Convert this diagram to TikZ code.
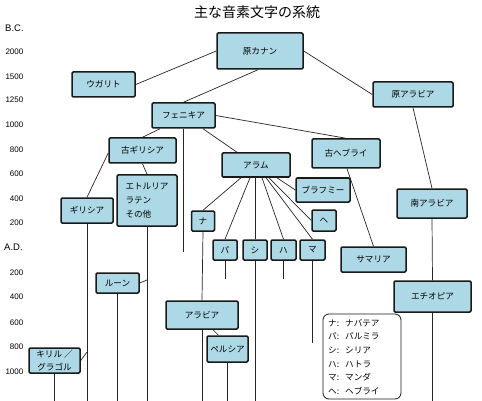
\documentclass[tikz,border=0pt]{standalone}
\usepackage{fontspec}
\setmainfont{Noto Sans CJK JP}
\newfontfamily\lat{Liberation Sans}
\definecolor{boxblue}{RGB}{173,216,230}
\begin{document}
\begin{tikzpicture}[x=1pt,y=-1pt,
  box/.style 2 args={draw=black!90, line width=1.5pt, fill=boxblue, rounded corners=1.2pt,
     inner sep=0pt, minimum width=#1, minimum height=#2,
     font=\fontsize{8.6}{14}\selectfont, align=center},
  ln/.style={draw=black!85, line width=0.7pt},
  ax/.style={font=\lat\fontsize{8}{9}\selectfont, anchor=east, inner sep=0pt},
  era/.style={font=\lat\fontsize{9.5}{10}\selectfont, anchor=west, inner sep=0pt}]
\useasboundingbox (0,0) rectangle (482,401);
\fill[white] (0,0) rectangle (482,401);

% title
\node[font=\fontsize{14}{16}\selectfont, inner sep=0pt] (title) at (257,12) {主な音素文字の系統};

% axis
\node[era] (bc) at (5,28) {B.C.};
\node[ax] (y2000) at (23.5,52) {2000};
\node[ax] (y1500) at (23.5,77) {1500};
\node[ax] (y1250) at (23.5,100) {1250};
\node[ax] (y1000) at (23.5,125) {1000};
\node[ax] (y800) at (23.5,150) {800};
\node[ax] (y600) at (23.5,174) {600};
\node[ax] (y400) at (23.5,199) {400};
\node[ax] (y200) at (23.5,223) {200};
\node[era] (ad) at (4,247) {A.D.};
\node[ax] (a200) at (23.5,273) {200};
\node[ax] (a400) at (23.5,297) {400};
\node[ax] (a600) at (23.5,323) {600};
\node[ax] (a800) at (23.5,347) {800};
\node[ax] (a1000) at (23.5,372) {1000};

% boxes
\node[box={86pt}{36pt}] (pc) at (260,51) {原カナン};
\node[box={63pt}{25pt}] (ug) at (103.5,84.5) {ウガリト};
\node[box={80pt}{25pt}] (pa) at (413,94.5) {原アラビア};
\node[box={63pt}{25pt}] (ph) at (183.5,115.5) {フェニキア};
\node[box={67pt}{25pt}] (og) at (142.5,150.5) {古ギリシア};
\node[box={60pt}{51pt}, align=left] (et) at (147,200.5) {エトルリア\\ラテン\\その他};
\node[box={52pt}{25pt}] (gr) at (87,210.5) {ギリシア};
\node[box={68pt}{24pt}] (ar) at (256,165) {アラム};
\node[box={68pt}{29pt}] (ob) at (346,153.5) {古ヘブライ};
\node[box={54pt}{24pt}] (br) at (323,190) {ブラフミー};
\node[box={23pt}{20pt}] (na) at (203,221) {ナ};
\node[box={24pt}{20pt}] (pl) at (225,250) {パ};
\node[box={24pt}{20pt}] (si) at (255,250) {シ};
\node[box={25pt}{20pt}] (ha) at (283.5,250) {ハ};
\node[box={25pt}{20pt}] (ma) at (312.5,250) {マ};
\node[box={24pt}{21pt}] (he) at (324,220.5) {ヘ};
\node[box={70pt}{29pt}] (sa) at (432,203.5) {南アラビア};
\node[box={65pt}{25pt}] (sm) at (373.5,259.5) {サマリア};
\node[box={77pt}{31pt}] (eo) at (432.5,296.5) {エチオピア};
\node[box={43pt}{20pt}] (ru) at (117.5,283) {ルーン};
\node[box={72pt}{28pt}] (ab) at (202,315) {アラビア};
\node[box={41pt}{26pt}] (pe) at (227.5,349) {ペルシア};
\node[box={51pt}{25pt}, font=\fontsize{8.6}{13}\selectfont] (ky) at (54.5,360.5) {キリル ／\\グラゴル};

% legend
\node[draw=black!90, line width=0.8pt, rounded corners=6pt, fill=white,
      minimum width=78pt, minimum height=85pt, inner sep=0pt] (leg) at (362,356.5) {};
\node[anchor=west, align=left, inner sep=0pt, font=\fontsize{8.6}{13.6}\selectfont] (legtxt) at (328,357)
  {ナ:\hspace{6pt}ナバテア\\パ:\hspace{6pt}パルミラ\\シ:\hspace{6pt}シリア\\ハ:\hspace{6pt}ハトラ\\マ:\hspace{6pt}マンダ\\ヘ:\hspace{6pt}ヘブライ};

% free ends
\coordinate (phend) at (183.5,252);
\coordinate (grend) at (87,401);
\coordinate (kyj) at (87,352);
\coordinate (etend) at (147,401);
\coordinate (ruj) at (147,280);
\coordinate (ruend) at (117.5,401);
\coordinate (kyend) at (54.5,401);
\coordinate (abend) at (202,401);
\coordinate (peend) at (227.5,401);
\coordinate (plend) at (225,279);
\coordinate (siend) at (255,401);
\coordinate (haend) at (283.5,279);
\coordinate (maend) at (312.5,343);
\coordinate (eoend) at (432.5,401);

% connectors
\draw[ln] (ug.east) -- (pc.west);
\draw[ln] ([xshift=-2pt]pc.south) -- (ph.north);
\draw[ln] (pc.east) -- (pa.west);
\draw[ln] (pa.south) -- (sa.north);
\draw[ln] (ph.east) -- (ob.north);
\draw[ln] ([xshift=-23.5pt]ph.south) -- (og.north);
\draw[ln] (ph.south) -- (phend);
\draw[ln] ([xshift=19.5pt]ph.south) -- ([xshift=-19pt]ar.north);
\draw[ln] (og.south) -- (et.north);
\draw[ln] ([yshift=-2.5pt]og.west) -- (gr.north);
\draw[ln] (gr.south) -- (grend);
\draw[ln] (ky.east) -- (kyj);
\draw[ln] (et.south) -- (etend);
\draw[ln] (ru.east) -- (ruj);
\draw[ln] (ru.south) -- (ruend);
\draw[ln] (ky.south) -- (kyend);
\draw[ln] (na.south) -- (ab.north);
\draw[ln] (ab.south) -- (abend);
\draw[ln] ([xshift=11pt]ab.south) -- ([xshift=-9pt]pe.north);
\draw[ln] (pe.south) -- (peend);
\draw[ln] (pl.south) -- (plend);
\draw[ln] (si.south) -- (siend);
\draw[ln] (ha.south) -- (haend);
\draw[ln] (ma.south) -- (maend);
\draw[ln] (sa.south) -- (eo.north);
\draw[ln] (eo.south) -- (eoend);
\draw[ln] ([xshift=1pt]ob.south) -- (sm.north);
\draw[ln] ([xshift=-15pt]ar.south) -- (na.north);
\draw[ln] ([xshift=-6pt]ar.south) -- (pl.north);
\draw[ln] ([xshift=-1pt]ar.south) -- (si.north);
\draw[ln] ([xshift=6pt]ar.south) -- (ha.north);
\draw[ln] ([xshift=10pt]ar.south) -- (ma.north);
\draw[ln] ([xshift=13pt]ar.south) -- (he.west);
\draw[ln] ([xshift=21pt]ar.south) -- (br.west);
\end{tikzpicture}
\end{document}
